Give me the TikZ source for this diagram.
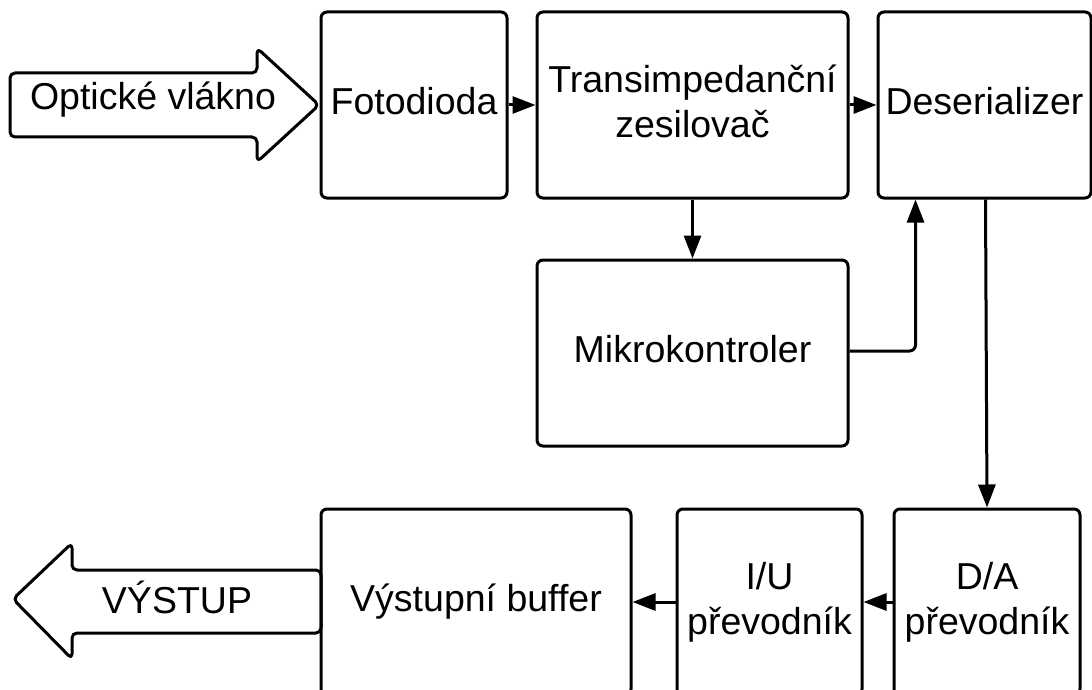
\documentclass[tikz,border=0pt]{standalone}
\usepackage{fontspec}
\setmainfont{Liberation Sans}
\usetikzlibrary{arrows.meta}
\tikzset{
  blk/.style={draw=black, line width=3pt, rounded corners=6pt, fill=white,
    minimum height=186pt, inner sep=0pt, align=center, text depth=8pt,
    font=\fontsize{37.5}{45}\selectfont},
  lbl/.style={inner sep=0pt, font=\fontsize{37.5}{45}\selectfont},
  arr/.style={line width=3pt, -{Triangle[length=23pt,width=17pt]}},
  bigarrow/.style={draw=black, line width=3pt, rounded corners=5pt, line join=round}
}
\begin{document}
\begin{tikzpicture}[x=1pt,y=-1pt]
\useasboundingbox (0,0) rectangle (1092,690);
\clip (0,0) rectangle (1092,690);
\fill[white] (0,0) rectangle (1092,690);

% input arrow
\draw[bigarrow] (10,73) -- (257,73) -- (257,48) -- (319,105) -- (257,162) -- (257,137) -- (10,137) -- cycle;
\node[lbl] (opt) at (153,100) {Optické vlákno};

% top row
\node[blk, minimum width=186pt] (foto) at (414,105) {Fotodioda};
\node[blk, minimum width=311pt] (trans) at (692.5,105) {Transimpedanční\\zesilovač};
\node[blk, minimum width=213pt] (des) at (984.5,105) {Deserializer};

% middle
\node[blk, minimum width=311pt] (mikro) at (692.5,353) {Mikrokontroler};

% bottom row
\node[blk, minimum width=186pt] (da) at (987,602) {D/A\\převodník};
\node[blk, minimum width=185pt] (iu) at (769.5,602) {I/U\\převodník};
\node[blk, minimum width=310pt] (buf) at (476,602) {Výstupní buffer};

% output arrow
\draw[bigarrow] (321,570) -- (72,570) -- (72,543) -- (13,599) -- (72,659) -- (72,633) -- (321,633) -- cycle;
\node[lbl] (out) at (177,597) {VÝSTUP};

% connectors
\draw[arr] (foto.east) -- (trans.west);
\draw[arr] (trans.east) -- (des.west);
\draw[arr] (trans.south) -- (mikro.north);
\coordinate (mkin) at ([xshift=39pt]des.south west);
\draw[line width=3pt, rounded corners=6pt, -{Triangle[length=23pt,width=17pt]}] ([yshift=2pt]mikro.east) -| (mkin);
\coordinate (desout) at ([xshift=109pt]des.south west);
\draw[arr] (desout) -- (da.north);
\draw[arr] (da.west) -- (iu.east);
\draw[arr] (iu.west) -- (buf.east);
\end{tikzpicture}
\end{document}
